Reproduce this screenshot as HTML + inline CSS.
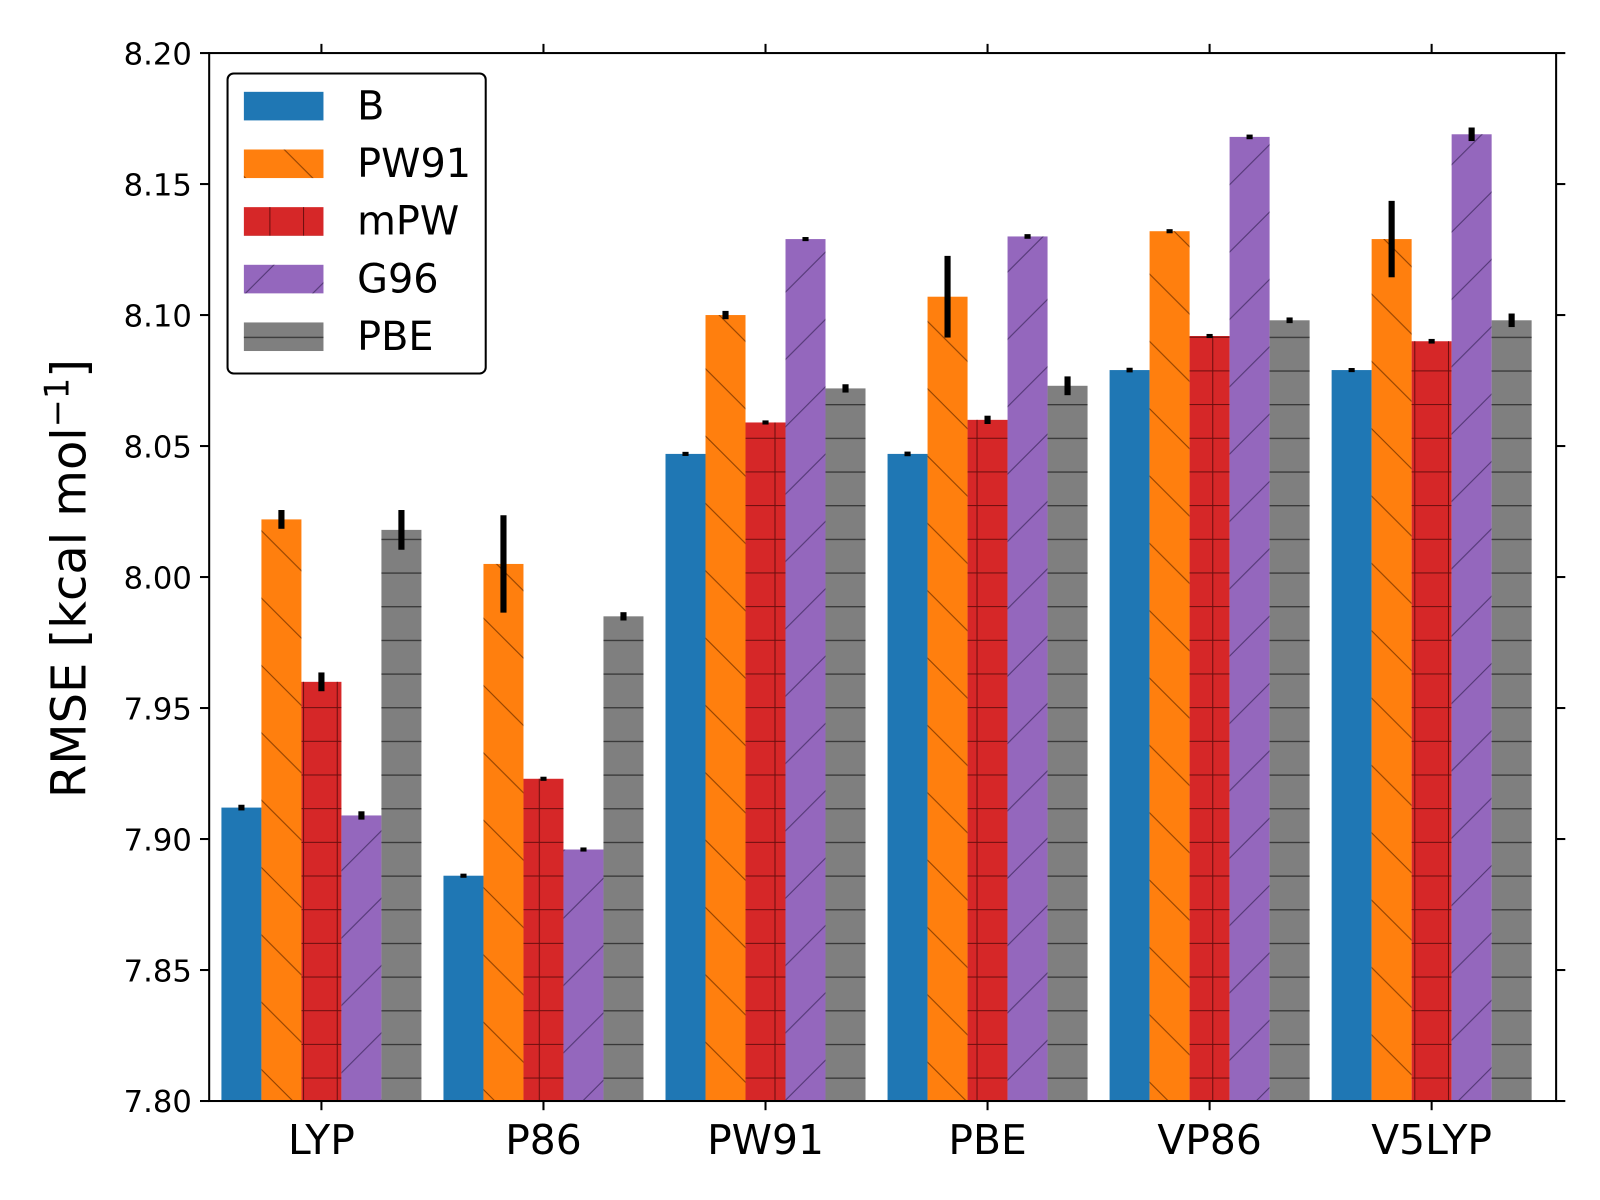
<!DOCTYPE html>
<html><head><meta charset="utf-8"><style>body{margin:0;background:#fff}svg{display:block}text{font-family:"DejaVu Sans","Liberation Sans",sans-serif}</style></head>
<body>
<svg id="chart" width="1600" height="1200" viewBox="0 0 1568 1176">
<defs>
<pattern id="hBack" patternUnits="userSpaceOnUse" width="66" height="66"><line x1="-10" y1="-10" x2="76" y2="76" stroke="#8a3d00" stroke-width="1"/><line x1="-76" y1="-10" x2="10" y2="76" stroke="#8a3d00" stroke-width="1"/><line x1="56" y1="-10" x2="142" y2="76" stroke="#8a3d00" stroke-width="1"/></pattern>
<pattern id="hPlus" patternUnits="userSpaceOnUse" width="33" height="33"><line x1="0" y1="0.5" x2="33" y2="0.5" stroke="#6a0e0e" stroke-width="1"/><line x1="0.5" y1="0" x2="0.5" y2="33" stroke="#6a0e0e" stroke-width="1"/></pattern>
<pattern id="hFwd" patternUnits="userSpaceOnUse" width="66" height="66"><line x1="-10" y1="76" x2="76" y2="-10" stroke="#4e3470" stroke-width="1"/><line x1="-76" y1="76" x2="10" y2="-10" stroke="#4e3470" stroke-width="1"/><line x1="56" y1="76" x2="142" y2="-10" stroke="#4e3470" stroke-width="1"/></pattern>
<pattern id="hDash" patternUnits="userSpaceOnUse" width="33" height="33"><line x1="0" y1="0.5" x2="33" y2="0.5" stroke="#333" stroke-width="1.5"/></pattern>
</defs>
<g id="bars"></g>
<g id="axes"></g>
</svg>
<script>
const categories = ["LYP","P86","PW91","PBE","VP86","V5LYP"];
const seriesNames = ["B","PW91","mPW","G96","PBE"];
const valB    = [7.912, 7.886, 8.047, 8.047, 8.079, 8.079];
const valPW91 = [8.022, 8.005, 8.100, 8.107, 8.132, 8.129];
const valMPW  = [7.960, 7.923, 8.059, 8.060, 8.092, 8.090];
const valG96  = [7.909, 7.896, 8.129, 8.130, 8.168, 8.169];
const valPBE  = [8.018, 7.985, 8.072, 8.073, 8.098, 8.098];
const errB    = [0.0005, 0.0002, 0.0002, 0.0003, 0.0003, 0.0002];
const errPW91 = [0.003, 0.018, 0.001, 0.015, 0.0002, 0.014];
const errMPW  = [0.003, 0.0002, 0.0002, 0.001, 0.0002, 0.0003];
const errG96  = [0.001, 0.0002, 0.0002, 0.0003, 0.0003, 0.002];
const errPBE  = [0.007, 0.001, 0.001, 0.003, 0.0005, 0.002];
const yTicks = [7.80,7.85,7.90,7.95,8.00,8.05,8.10,8.15,8.20];

const NS="http://www.w3.org/2000/svg";
const L=205,R=1525,T=52,B=1079,Y0=7.80,Y1=8.20;
const yS=v=>B-(v-Y0)/(Y1-Y0)*(B-T);
const xC=i=>315+i*217.6;
const bw=39.2;
const vals=[valB,valPW91,valMPW,valG96,valPBE];
const errs=[errB,errPW91,errMPW,errG96,errPBE];
const colors=["#1f77b4","#ff7f0e","#d62728","#9467bd","#7f7f7f"];
const hatch=[null,"hBack","hPlus","hFwd","hDash"];
function mk(t,a,p){const e=document.createElementNS(NS,t);for(const k in a)e.setAttribute(k,a[k]);p.appendChild(e);return e;}
const gb=document.getElementById("bars"), ga=document.getElementById("axes");
categories.forEach((c,i)=>{
  vals.forEach((arr,s)=>{
    const x=xC(i)-2.5*bw+s*bw, y=yS(arr[i]);
    const r=mk("rect",{x:x,y:y,width:bw,height:B-y,fill:colors[s]},gb);
    
    
    if(hatch[s]){const h=mk("rect",{x:x,y:y,width:bw,height:B-y,fill:"url(#"+hatch[s]+")"},gb);
      
      }
    const e=errs[s][i];
    const eb=mk("rect",{x:x+bw/2-3,y:yS(arr[i]+e)-1.5,width:6,height:Math.max(3,yS(arr[i]-e)-yS(arr[i]+e)+3),fill:"#000"},gb);
    
    
  });
});
const fr=mk("rect",{x:L,y:T,width:R-L,height:B-T,fill:"none",stroke:"#000","stroke-width":2},ga);


yTicks.forEach(v=>{
  const y=yS(v);
  mk("line",{x1:L-9,y1:y,x2:L,y2:y,stroke:"#000","stroke-width":2},ga);
  mk("line",{x1:R,y1:y,x2:R+9,y2:y,stroke:"#000","stroke-width":2},ga);
  const t=mk("text",{x:L-17,y:y+11,"text-anchor":"end","font-size":30},ga);
  t.textContent=v.toFixed(2);
  
  
});
categories.forEach((c,i)=>{
  const x=xC(i);
  mk("line",{x1:x,y1:B,x2:x,y2:B+9,stroke:"#000","stroke-width":2},ga);
  mk("line",{x1:x,y1:T-9,x2:x,y2:T,stroke:"#000","stroke-width":2},ga);
  const t=mk("text",{x:x,y:B+52,"text-anchor":"middle","font-size":40},ga);
  t.textContent=c;
  
  
});
const yt=mk("text",{x:0,y:0,"text-anchor":"middle","font-size":47,transform:"translate(84,567) rotate(-90)"},ga);
yt.innerHTML='RMSE [kcal mol<tspan dy="-17" font-size="33">−1</tspan><tspan dy="17">]</tspan>';


const lg=mk("g",{},ga);


mk("rect",{x:223,y:72,width:253,height:294,rx:6,fill:"#fff",stroke:"#000","stroke-width":2},lg);
seriesNames.forEach((n,s)=>{
  const y=90+s*56.5;
  const sw=mk("rect",{x:239,y:y,width:78,height:28,fill:colors[s]},lg);
  
  
  if(hatch[s]) mk("rect",{x:239,y:y,width:78,height:28,fill:"url(#"+hatch[s]+")"},lg);
  const t=mk("text",{x:350,y:y+27,"font-size":39},lg);
  t.textContent=n;
  
  
});
</script>
</body></html>
